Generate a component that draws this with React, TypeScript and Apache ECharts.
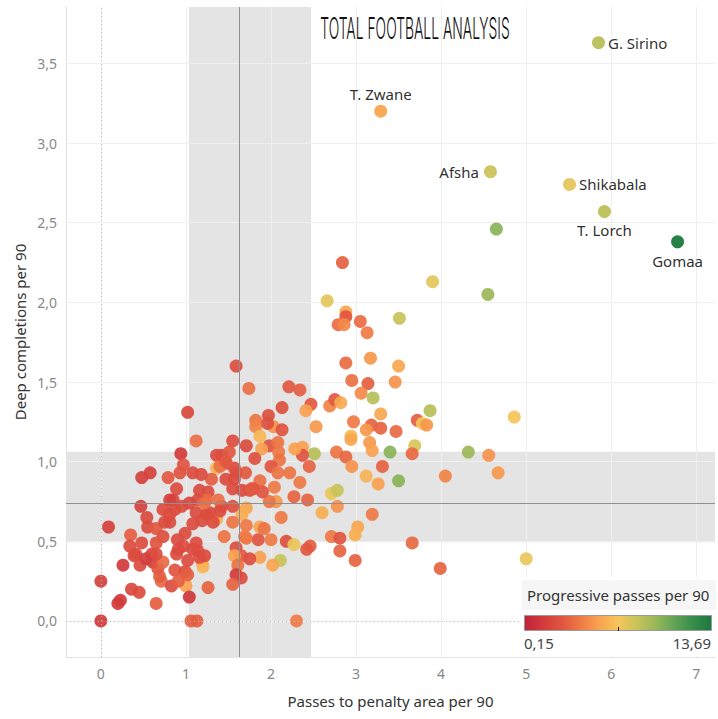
import React, { useEffect, useRef } from "react";
import * as echarts from "echarts";

// ---- Data ----
const passesToPA = [
  4.65, 2.84, 3.9, 2.66, 3.51, 4.55, 2.88, 2.88, 2.79, 2.86, 3.05, 3.13, 2.88, 3.17, 3.5, 2.95, 3.14, 3.46, 3.06, 3.2,
  2.47, 2.41, 2.69, 2.75, 2.82, 3.29, 3.87, 3.72, 3.78, 3.83, 2.53, 2.97, 3.18, 3.29, 3.12, 3.47, 2.94, 2.94, 3.16, 3.4,
  3.69, 3.66, 2.51, 2.37, 2.37, 2.45, 2.34, 2.43, 2.77, 2.88, 2.95, 3.19, 3.31, 3.12, 3.26, 3.5, 2.71, 2.78, 2.78, 2.6,
  3.19, 3.02, 2.99, 2.71, 2.81, 2.81, 2.46, 2.42, 2.99, 3.66, 3.99, 4.05, 4.32, 4.56, 4.67, 5.0, 4.86, 2.3, 1.59, 1.74,
  2.21, 2.34, 2.13, 1.97, 1.82, 1.82, 2.03, 2.13, 1.96, 1.87, 1.55, 1.71, 1.98, 2.08, 2.28, 1.89, 2.09, 2.1, 2.0, 2.22,
  1.87, 1.75, 2.04, 2.27, 2.06, 1.98, 1.71, 1.66, 2.12, 1.87, 2.0, 2.18, 2.27, 2.11, 1.87, 2.02, 1.85, 1.71, 1.81, 1.57,
  1.59, 1.7, 1.79, 1.9, 2.08, 1.55, 1.42, 1.36, 1.55, 1.71, 1.92, 1.45, 1.69, 1.59, 1.65, 1.75, 1.57, 1.61, 1.59, 1.65,
  1.55, 1.26, 1.19, 1.2, 1.0, 1.04, 1.06, 1.13, 1.12, 1.02, 1.36, 1.42, 1.51, 1.47, 1.36, 1.4, 1.47, 1.47, 1.57, 1.55,
  1.66, 1.77, 1.3, 1.16, 1.26, 1.24, 1.14, 1.38, 1.4, 1.24, 1.08, 1.19, 1.12, 1.28, 1.32, 1.22, 0.94, 0.48, 0.58, 0.79,
  0.93, 0.97, 1.08, 1.18, 0.47, 0.73, 0.85, 0.95, 1.04, 0.54, 0.55, 0.09, 0.35, 0.65, 0.81, 0.73, 0.65, 0.48, 0.9, 0.91,
  0.41, 0.39, 0.46, 0.26, 0.6, 0.61, 0.67, 0.73, 0.71, 0.83, 0.87, 0.0, 0.36, 0.45, 0.23, 0.2, 0.65, 0.0, 0.53, 0.69,
  0.99, 1.12, 1.14, 1.22, 1.02, 0.99, 1.16, 1.08, 0.89, 0.97, 1.02, 0.91, 0.65, 0.34, 0.75, 0.81, 0.89, 0.81, 0.87,
];
const deepCompletions = [
  2.46, 2.25, 2.13, 2.01, 1.9, 2.05, 1.94, 1.91, 1.86, 1.86, 1.88, 1.81, 1.62, 1.65, 1.6, 1.51, 1.49, 1.5, 1.43, 1.4,
  1.36, 1.32, 1.35, 1.39, 1.37, 1.3, 1.32, 1.26, 1.24, 1.23, 1.22, 1.25, 1.23, 1.21, 1.2, 1.19, 1.16, 1.14, 1.12, 1.06,
  1.1, 1.05, 1.05, 1.09, 1.04, 0.97, 0.87, 0.76, 1.06, 1.03, 0.97, 1.07, 0.97, 0.91, 0.86, 0.88, 0.8, 0.82, 0.72, 0.68,
  0.67, 0.59, 0.54, 0.53, 0.52, 0.44, 0.47, 0.45, 0.38, 0.49, 0.33, 0.91, 1.06, 1.04, 0.93, 0.39, 1.28, 0.0, 1.6, 1.46,
  1.47, 1.45, 1.34, 1.29, 1.26, 1.22, 1.22, 1.2, 1.24, 1.16, 1.13, 1.1, 1.1, 1.12, 1.08, 1.08, 1.06, 1.01, 0.97, 0.93,
  0.88, 0.82, 0.84, 0.78, 0.75, 0.75, 0.71, 0.67, 0.65, 0.59, 0.51, 0.5, 0.48, 0.38, 0.4, 0.35, 0.51, 0.52, 1.02, 0.96,
  0.93, 0.93, 0.83, 0.81, 0.93, 0.72, 0.72, 0.64, 0.62, 0.6, 0.58, 0.53, 0.53, 0.46, 0.41, 0.39, 0.41, 0.35, 0.29, 0.27,
  0.23, 0.21, 0.37, 0.34, 0.22, 0.15, 0.0, 0.0, 1.13, 1.31, 1.04, 1.04, 1.06, 0.99, 0.96, 0.97, 1.0, 0.89, 0.89, 0.83,
  0.82, 0.83, 0.89, 0.82, 0.81, 0.76, 0.76, 0.76, 0.69, 0.67, 0.61, 0.63, 0.68, 0.68, 0.62, 0.74, 1.05, 0.9, 0.93, 0.9,
  0.93, 0.98, 0.93, 0.92, 0.72, 0.7, 0.76, 0.72, 0.74, 0.65, 0.59, 0.59, 0.54, 0.58, 0.62, 0.53, 0.49, 0.49, 0.51, 0.45,
  0.42, 0.41, 0.35, 0.35, 0.42, 0.37, 0.33, 0.37, 0.25, 0.22, 0.32, 0.25, 0.2, 0.18, 0.13, 0.11, 0.11, 0.0, 0.39, 0.28,
  0.55, 0.49, 0.44, 0.41, 0.38, 0.31, 0.4, 0.45, 0.42, 0.47, 0.29, 0.25, 0.42, 0.47, 0.62, 0.67, 0.83, 0.76, 0.7,
];
const progressivePasses = [
  10, 3.3, 7.5, 7.5, 8.3, 9.5, 5.7, 2.8, 3.7, 4.7, 3.7, 4.2, 3.7, 5.2, 5.7, 3.9, 3.2, 5.0, 4.7, 8.8,
  3.0, 5.5, 4.5, 3.0, 5.8, 5.7, 8.8, 3.2, 7.0, 5.2, 5.2, 4.2, 3.4, 3.4, 5.2, 3.6, 6.3, 5.7, 5.2, 10,
  7.8, 3.6, 8.8, 5.5, 2.8, 3.4, 4.2, 3.4, 4.0, 3.5, 5.0, 5.5, 3.4, 6.2, 5.5, 10, 7.3, 8.3, 5.0, 6.0,
  4.2, 5.7, 6.0, 4.2, 2.8, 3.4, 3.2, 3.0, 3.4, 3.6, 3.4, 4.5, 9.5, 5.0, 5.2, 7.3, 7.0, 4.2, 2.5, 3.8,
  3.0, 3.2, 2.6, 2.6, 4.0, 4.5, 5.0, 2.8, 2.6, 6.3, 2.5, 2.3, 2.8, 4.0, 5.5, 5.5, 4.2, 4.0, 2.8, 4.0,
  3.8, 2.6, 4.2, 3.4, 5.2, 4.0, 5.7, 6.0, 4.2, 5.5, 4.2, 2.6, 7.3, 8.3, 5.5, 5.7, 2.8, 4.0, 2.6, 2.6,
  2.5, 3.0, 2.6, 2.8, 4.0, 2.6, 2.4, 6.0, 4.0, 4.2, 4.0, 4.0, 4.2, 2.5, 3.0, 2.5, 5.5, 4.0, 1.5, 2.3,
  3.4, 3.4, 5.5, 6.2, 5.5, 1.2, 3.2, 3.2, 3.8, 2.2, 2.4, 2.4, 3.0, 2.6, 6.2, 3.8, 3.0, 2.4, 2.4, 2.4,
  2.4, 3.0, 3.2, 2.4, 2.4, 3.6, 2.4, 3.8, 2.4, 2.4, 2.4, 2.4, 2.4, 2.4, 2.4, 3.8, 1.5, 1.8, 1.8, 3.0,
  2.8, 2.8, 2.4, 2.4, 1.8, 2.4, 2.4, 2.4, 2.2, 2.3, 2.3, 1.8, 3.2, 3.0, 2.4, 2.6, 2.8, 2.4, 2.4, 2.4,
  2.4, 2.4, 2.4, 1.4, 2.2, 1.7, 2.8, 3.6, 3.6, 2.4, 2.8, 1.8, 2.2, 2.4, 1.5, 1.5, 3.2, 1.4, 1.7, 3.2,
  2.4, 2.4, 2.4, 2.4, 2.4, 2.4, 2.4, 2.4, 2.4, 2.4, 3.2, 3.2, 2.4, 2.4, 2.4, 2.4, 2.4, 1.8, 2.4,
];

const namedPlayers = ["G. Sirino", "T. Zwane", "Afsha", "Shikabala", "T. Lorch", "Gomaa"];
const namedPassesToPA = [5.85, 3.29, 4.58, 5.51, 5.92, 6.78];
const namedDeepCompletions = [3.63, 3.2, 2.82, 2.74, 2.57, 2.38];
const namedProgressivePasses = [8.8, 5.6, 8.2, 7.4, 8.6, 13.69];

const progressiveMin = 0.15;
const progressiveMax = 13.69;
const progressiveLabels = ["0,15", "13,69"];

const medianPassesToPA = 1.625;
const medianDeepCompletions = 0.739;
const bandPassesToPA = [1.035, 2.47];
const bandDeepCompletions = [0.494, 1.063];

const xRange = [-0.41, 7.22];
const yRange = [-0.226, 3.854];

// ---- Styles ----
const FONT = "'Noto Sans', 'Open Sans', sans-serif";
const colorRamp = [
  "#c0233a", "#d23b3c", "#e05540", "#ef7a45", "#f9a34f",
  "#f6c65b", "#c9c35a", "#98b858", "#62a455", "#388d4a", "#1c783e",
];

const labelPlacement: Record<string, { position: string; distance: number }> = {
  "G. Sirino": { position: "right", distance: 3 },
  "T. Zwane": { position: "top", distance: 3 },
  Afsha: { position: "left", distance: 5 },
  Shikabala: { position: "right", distance: 3 },
  "T. Lorch": { position: "bottom", distance: 4 },
  Gomaa: { position: "bottom", distance: 5 },
};

function buildOption() {
  const pts = passesToPA.map((x, i) => [x, deepCompletions[i], progressivePasses[i]]);
  const named = namedPlayers.map((name, i) => ({
    name,
    value: [namedPassesToPA[i], namedDeepCompletions[i], namedProgressivePasses[i]],
    label: {
      show: true,
      formatter: name,
      position: labelPlacement[name].position,
      distance: labelPlacement[name].distance,
      color: "#222",
      fontSize: 15,
      fontFamily: FONT,
    },
  }));

  const gradientStops = colorRamp.map((c, i) => ({ offset: i / (colorRamp.length - 1), color: c }));

  return {
    animation: false,
    backgroundColor: "#ffffff",
    textStyle: { fontFamily: FONT },
    grid: { left: 66, top: 7, right: 3, bottom: 62, containLabel: false },
    xAxis: {
      type: "value",
      min: xRange[0],
      max: xRange[1],
      splitNumber: 8,
      minInterval: 1,
      maxInterval: 1,
      z: 1.5,
      name: "Passes to penalty area per 90",
      nameLocation: "middle",
      nameGap: 36,
      nameTextStyle: { color: "#333", fontSize: 15, fontFamily: FONT },
      axisLine: { show: true, onZero: false, lineStyle: { color: "#e3e3e3", width: 1 } },
      axisTick: { show: false },
      axisLabel: {
        color: "#888",
        fontSize: 14,
        fontFamily: FONT,
        margin: 9,
        showMinLabel: false,
        showMaxLabel: false,
        formatter: (v: number) => String(Math.round(v)),
      },
      splitLine: { show: true, showMinLine: false, showMaxLine: false, lineStyle: { color: "#efefef", width: 1 } },
    },
    yAxis: {
      type: "value",
      min: yRange[0],
      max: yRange[1],
      splitNumber: 8,
      minInterval: 0.5,
      maxInterval: 0.5,
      z: 1.5,
      axisLine: { show: true, onZero: false, lineStyle: { color: "#e3e3e3", width: 1 } },
      axisTick: { show: false },
      axisLabel: {
        color: "#888",
        fontSize: 14,
        fontFamily: FONT,
        margin: 9,
        showMinLabel: false,
        showMaxLabel: false,
        formatter: (v: number) => v.toFixed(1).replace(".", ","),
      },
      splitLine: { show: true, showMinLine: false, showMaxLine: false, lineStyle: { color: "#efefef", width: 1 } },
    },
    visualMap: {
      type: "continuous",
      show: false,
      min: progressiveMin,
      max: progressiveMax,
      dimension: 2,
      seriesIndex: [2, 3],
      inRange: { color: colorRamp },
    },
    series: [
      {
        type: "scatter",
        name: "bands",
        data: [],
        z: 1,
        silent: true,
        markArea: {
          silent: true,
          itemStyle: { color: "#e4e4e4", opacity: 1 },
          data: [
            [{ xAxis: bandPassesToPA[0] }, { xAxis: bandPassesToPA[1] }],
            [{ yAxis: bandDeepCompletions[0] }, { yAxis: bandDeepCompletions[1] }],
          ],
        },
      },
      {
        type: "scatter",
        name: "zero",
        data: [],
        z: 1.8,
        silent: true,
        markLine: {
          silent: true,
          symbol: "none",
          label: { show: false },
          lineStyle: { color: "#bdbdbd", width: 1, type: [1, 3] },
          data: [{ xAxis: 0 }, { yAxis: 0 }],
        },
      },
      {
        type: "scatter",
        name: "players",
        data: pts,
        z: 2,
        symbol: "circle",
        symbolSize: 13,
        itemStyle: { opacity: 0.92 },
      },
      {
        type: "scatter",
        name: "named",
        data: named,
        z: 2.5,
        symbol: "circle",
        symbolSize: 13,
        itemStyle: { opacity: 0.95 },
      },
      {
        type: "scatter",
        name: "medians",
        data: [],
        z: 3,
        silent: true,
        markLine: {
          silent: true,
          symbol: "none",
          label: { show: false },
          lineStyle: { color: "#8f8f8f", width: 1, type: "solid" },
          data: [{ xAxis: medianPassesToPA }, { yAxis: medianDeepCompletions }],
        },
      },
    ],
    graphic: [
      {
        type: "text",
        z: 100,
        x: 20,
        y: 332,
        rotation: Math.PI / 2,
        style: {
          text: "Deep completions per 90",
          x: 0,
          y: 0,
          align: "center",
          verticalAlign: "middle",
          fill: "#333",
          font: `15px ${FONT}`,
        },
      },
      {
        type: "text",
        z: 100,
        x: 415,
        y: 28,
        scaleX: 0.463,
        scaleY: 1,
        style: {
          text: "TOTAL FOOTBALL ANALYSIS",
          x: 0,
          y: 0,
          align: "center",
          verticalAlign: "middle",
          fill: "#111",
          font: "300 30px Inter, 'DejaVu Sans', sans-serif",
        },
      },
      {
        type: "rect",
        z: 100,
        shape: { x: 519, y: 577, width: 199, height: 79 },
        style: { fill: "#ffffff" },
      },
      {
        type: "rect",
        z: 101,
        shape: { x: 522, y: 580, width: 194, height: 30 },
        style: { fill: "#f6f6f6" },
      },
      {
        type: "text",
        z: 102,
        x: 527,
        y: 595,
        style: {
          text: "Progressive passes per 90",
          x: 0,
          y: 0,
          align: "left",
          verticalAlign: "middle",
          fill: "#333",
          font: `15px ${FONT}`,
        },
      },
      {
        type: "rect",
        z: 102,
        shape: { x: 524.5, y: 615.5, width: 187, height: 15 },
        style: {
          fill: { type: "linear", x: 0, y: 0, x2: 1, y2: 0, colorStops: gradientStops },
          stroke: "#9a9a9a",
          lineWidth: 1,
        },
      },
      {
        type: "line",
        z: 103,
        shape: { x1: 618.5, y1: 627, x2: 618.5, y2: 631 },
        style: { stroke: "#111", lineWidth: 1 },
      },
      {
        type: "text",
        z: 102,
        x: 524,
        y: 643,
        style: {
          text: progressiveLabels[0],
          x: 0,
          y: 0,
          align: "left",
          verticalAlign: "middle",
          fill: "#444",
          font: `15px ${FONT}`,
        },
      },
      {
        type: "text",
        z: 102,
        x: 711,
        y: 643,
        style: {
          text: progressiveLabels[1],
          x: 0,
          y: 0,
          align: "right",
          verticalAlign: "middle",
          fill: "#444",
          font: `15px ${FONT}`,
        },
      },
    ],
  };
}

export default function App() {
  const ref = useRef<HTMLDivElement>(null);
  useEffect(() => {
    document.body.style.margin = "0";
    if (!ref.current) return;
    const chart = echarts.init(ref.current, null, { renderer: "svg" });
    chart.setOption(buildOption() as any);
    return () => chart.dispose();
  }, []);
  return <div ref={ref} style={{ width: 718, height: 719 }} />;
}
